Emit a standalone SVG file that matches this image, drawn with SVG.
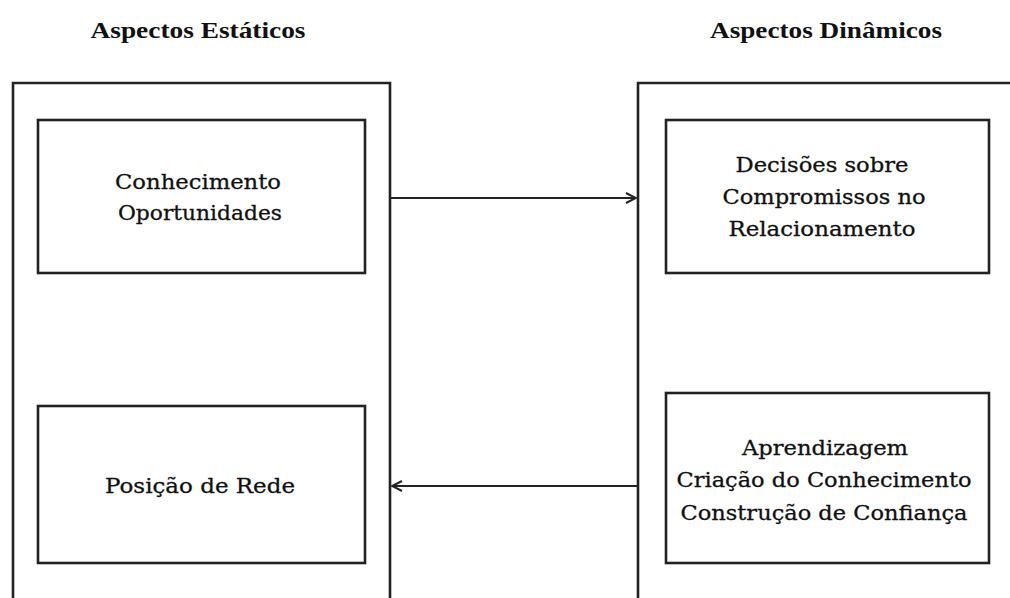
<svg xmlns="http://www.w3.org/2000/svg" width="1010" height="598" viewBox="0 0 1010 598">
<style>
.box{fill:#fff;stroke:#222;stroke-width:2.6}
.t{font-family:"DejaVu Serif","Liberation Serif",serif;font-size:21px;fill:#111;stroke:#111;stroke-width:0.3;text-anchor:middle}
.h{font-family:"Liberation Serif",serif;font-weight:bold;font-size:24px;fill:#111;text-anchor:middle}
.c{stroke:#222;stroke-width:2;fill:none}
</style>
<defs>
<marker id="ah" viewBox="0 0 12 12" refX="11" refY="6" markerWidth="12" markerHeight="12" markerUnits="userSpaceOnUse" orient="auto">
<path d="M1,1 L11,6 L1,11" fill="none" stroke="#222" stroke-width="2"/>
</marker>
</defs>
<rect width="1010" height="598" fill="#fff"/>
<text class="h" x="198" y="38" textLength="215" lengthAdjust="spacingAndGlyphs">Aspectos Estáticos</text>
<text class="h" x="826" y="38" textLength="232" lengthAdjust="spacingAndGlyphs">Aspectos Dinâmicos</text>
<g id="static-group">
<path class="box" d="M13,610 L13,83 L390,83 L390,610"/>
</g>
<g id="dynamic-group">
<path class="box" d="M638,610 L638,83 L1020,83"/>
</g>
<g id="conhecimento">
<rect class="box" x="38" y="120" width="327" height="153"/>
<text class="t" x="198" y="189" textLength="166" lengthAdjust="spacingAndGlyphs">Conhecimento</text>
<text class="t" x="200" y="220" textLength="164" lengthAdjust="spacingAndGlyphs">Oportunidades</text>
</g>
<g id="posicao">
<rect class="box" x="38" y="406" width="327" height="157"/>
<text class="t" x="200" y="493" textLength="190" lengthAdjust="spacingAndGlyphs">Posição de Rede</text>
</g>
<g id="decisoes">
<rect class="box" x="666" y="120" width="323" height="153"/>
<text class="t" x="822" y="172" textLength="173" lengthAdjust="spacingAndGlyphs">Decisões sobre</text>
<text class="t" x="824" y="204" textLength="203" lengthAdjust="spacingAndGlyphs">Compromissos no</text>
<text class="t" x="822" y="236" textLength="187" lengthAdjust="spacingAndGlyphs">Relacionamento</text>
</g>
<g id="aprendizagem">
<rect class="box" x="666" y="393" width="323" height="170"/>
<text class="t" x="825" y="455" textLength="166" lengthAdjust="spacingAndGlyphs">Aprendizagem</text>
<text class="t" x="824" y="487" textLength="295" lengthAdjust="spacingAndGlyphs">Criação do Conhecimento</text>
<text class="t" x="824" y="520" textLength="287" lengthAdjust="spacingAndGlyphs">Construção de Confiança</text>
</g>
<g id="connectors">
<line class="c" x1="391" y1="198" x2="636" y2="198" marker-end="url(#ah)"/>
<line class="c" x1="637" y1="486" x2="392" y2="486" marker-end="url(#ah)"/>
</g>
</svg>
